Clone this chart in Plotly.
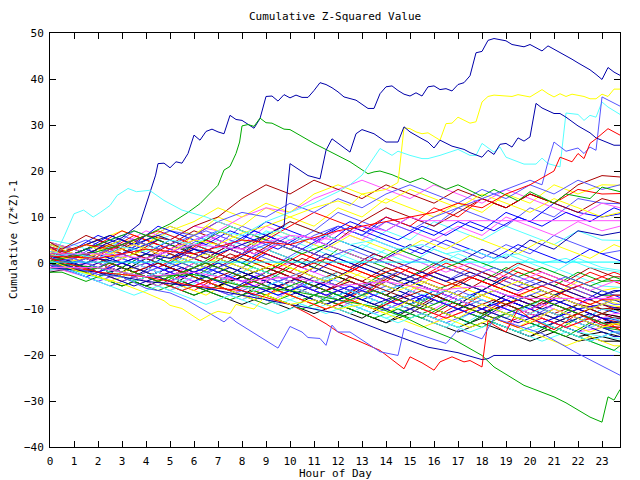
import plotly.graph_objects as go

# ---------------- data (read/estimated from the reference) ----------------
band_hours = list(range(24)) + [23.75]
band2_hours = [0] + [h + 0.5 for h in range(24)] + [23.75]

b01 = [1,-1,1,-1,-3,-1,-3,-5,-2,-4,-6,-3,-5,-7,-4,-6,-8,-10,-7,-9,-11,-8,-10,-12,-13]
b02 = [3,2,0,-2,1,-1,-3,0,-2,-4,-1,-3,-5,-7,-3,-5,-7,-9,-6,-8,-10,-12,-9,-11,-12.5]
b03 = [2,3,1,4,2,0,3,1,-1,2,0,-2,1,-1,-3,-5,-2,-4,-6,-3,-5,-7,-9,-6,-7.5]
b04 = [-1,-2,-4,-2,-4,-6,-3,-5,-7,-9,-6,-8,-10,-7,-9,-11,-13,-10,-12,-14,-11,-13,-15,-14,-15.3]
b05 = [4,3,5,3,6,4,2,5,3,7,5,3,1,4,2,0,3,1,-1,2,0,-2,1,-1,-1.6]
b06 = [0.5,1,-1,-3,-1,-3,0,-2,-4,-6,-4,-1,-3,-5,-7,-4,-6,-8,-10,-8,-10,-7,-9,-11,-11.7]
b07 = [2.5,0,2,4,2,0,-2,1,-1,3,1,-1,-3,0,-2,-4,-2,-4,-6,-3,-5,-7,-4,-6,-5.3]
b08 = [-1.5,-1,-3,-1,-3,-5,-7,-5,-7,-4,-6,-8,-10,-12,-9,-11,-8,-10,-12,-14,-16,-13,-15,-17,-17]
b09 = [3.5,2,4,6,4,2,5,7,5,3,6,4,8,6,4,2,5,3,1,4,2,6,4,2,2.7]
b10 = [0,-1,1,-1,2,0,-2,-4,-1,-3,-5,-7,-5,-7,-9,-6,-8,-10,-12,-9,-11,-13,-15,-12,-13.5]
b11 = [2,0,-2,1,-1,-3,-5,-3,-5,-7,-4,-6,-8,-5,-7,-9,-7,-9,-11,-8,-10,-12,-10,-12,-14.6]
b12 = [4.5,3,1,-1,2,0,4,2,0,-2,1,-1,3,1,-1,-3,0,-2,-4,-1,-3,-5,-2,-4,-3.8]
b13 = [1.5,1,3,1,-1,2,0,-2,-4,-2,-4,-6,-3,-5,-7,-9,-6,-8,-10,-7,-9,-11,-13,-10,-11]
b14 = [-0.5,-2,0,-2,-4,-2,-4,-6,-8,-5,-7,-9,-6,-8,-10,-8,-10,-7,-9,-11,-13,-10,-12,-14,-14]
b15 = [5,4,2,5,3,7,5,3,6,4,9,7,5,3,7,5,9,7,5,8,6,4,7,5,4.9]
b16 = [1,0,-2,0,-2,-4,-1,-3,-5,-2,-4,-6,-8,-5,-7,-9,-11,-8,-10,-12,-9,-11,-9,-10,-9.6]
b17 = [3,2,0,3,1,-1,2,0,-2,1,-1,-3,-5,-2,-4,-6,-3,-5,-7,-9,-6,-8,-10,-8,-9]
b18 = [-2,-1,-3,-5,-3,-5,-2,-4,-6,-8,-10,-7,-9,-11,-13,-10,-12,-14,-12,-14,-16,-14,-16,-15,-16]
b19 = [2,1,4,2,5,8,6,4,8,6,4,7,11,9,7,10,8,12,10,8,12,10,14,13,12.9]
b20 = [0,-1,-3,-1,-3,-1,-3,-5,-3,-5,-7,-5,-3,-5,-7,-9,-7,-9,-6,-8,-10,-8,-10,-12,-12]
b21 = [3.5,2,4,2,0,3,1,4,2,0,-2,2,0,-2,-4,-1,-3,-5,-2,-4,-6,-4,-6,-8,-8]
b22 = [-1,-2,-1,-3,-5,-3,-1,-3,-5,-2,-4,-6,-8,-6,-8,-10,-7,-9,-11,-9,-11,-13,-11,-13,-13]
b23 = [4,3,6,4,2,5,3,7,5,9,7,5,8,6,10,8,6,9,7,11,9,13,11,10,10.7]
b24 = [1,1,-1,1,-1,-3,0,-2,-4,-2,0,-2,-4,-6,-3,-5,-2,-4,-6,-8,-5,-7,-9,-7,-8]
b25 = [-1.5,-1,-3,-2,-4,-6,-4,-6,-8,-6,-8,-10,-8,-10,-12,-10,-12,-14,-11,-13,-15,-13,-15,-16,-16.5]
b26 = [2.5,2,0,-2,0,3,1,-1,2,0,-2,-4,-2,-4,-1,-3,-5,-7,-4,-6,-8,-6,-8,-10,-10]
b27 = [4,3,5,7,5,8,6,10,8,12,10,8,12,10,14,12,10,13,11,15,13,17,15,17,16.9]
b28 = [0.5,-1,1,-1,-3,-1,-3,-5,-3,-1,-3,-5,-7,-5,-7,-4,-6,-8,-10,-7,-9,-11,-13,-11,-11.7]
b29 = [1,0,-2,0,-2,0,-2,-4,-2,-4,-6,-3,-5,-7,-5,-7,-9,-6,-8,-10,-12,-10,-12,-14,-14]
b30 = [3,2,4,2,5,3,1,4,2,6,4,2,5,3,1,4,2,0,3,1,5,3,7,6,6.7]
b31 = [-0.5,-1,-2,-4,-2,-4,-6,-3,-5,-7,-5,-7,-9,-6,-8,-10,-12,-9,-11,-13,-11,-13,-11,-13,-13.5]
b32 = [2,1,3,1,3,1,-1,2,0,-2,1,-1,-3,-5,-2,-4,-6,-4,-6,-3,-5,-7,-5,-7,-7]
b33 = [1.5,2,1,-1,-3,-1,1,-1,-3,-5,-3,-5,-7,-5,-7,-9,-6,-8,-10,-8,-10,-12,-10,-12,-12.5]
b34 = [4.5,3,1,4,7,5,3,6,4,8,6,4,7,5,9,7,5,8,6,10,8,6,9,7,8]
b35 = [0,-1,1,3,1,-1,-3,-1,-3,-5,-3,-5,-2,-4,-6,-8,-6,-8,-10,-12,-9,-11,-13,-10,-10.5]
b36 = [1,3,5,3,1,4,7,5,3,6,9,7,5,9,12,10,8,11,14,12,15,13,17,19,18.7]
b37 = [2.5,2,0,2,4,2,0,-2,1,-1,-3,-1,-3,-5,-3,-5,-7,-5,-7,-9,-7,-9,-11,-9,-9.5]
b38 = [-1,1,-1,-3,-5,-3,-5,-7,-9,-7,-9,-11,-9,-11,-13,-11,-13,-15,-13,-15,-17,-15,-17,-16,-17]
b39 = [-0.5,-2,-4,-2,0,-2,-4,-1,-3,-5,-3,-6,-8,-6,-4,-6,-8,-10,-8,-10,-12,-9,-11,-13,-13]
b40 = [1.5,1,3,5,3,1,4,2,0,3,1,-1,-3,0,-2,-4,-2,-4,-6,-3,-5,-7,-5,-7,-6]
b41 = [3,2,4,7,5,3,6,9,7,5,8,11,9,7,10,8,12,10,14,12,15,13,16,15,15.1]
b42 = [-1,-1,-3,-5,-3,-5,-7,-5,-7,-9,-7,-9,-6,-8,-10,-12,-10,-12,-14,-11,-13,-15,-12,-14,-14.6]
b43 = [0.5,0,2,0,-2,-4,-2,0,-2,-4,-6,-4,-6,-8,-6,-4,-6,-8,-6,-8,-10,-8,-10,-9,-10]
b44 = [2.5,2,1,4,6,5,8,7,10,12,11,14,16,18,16,14,17,15,13,16,14,12,10,13,12]
b45 = [3,2,4,2,4,6,4,2,5,3,1,4,2,0,3,1,-1,2,0,-2,1,-1,-3,-5,-5.3]
b46 = [2,2,4,3,6,5,8,10,14,17,15,18,16,14,17,15,13,16,14,12,15,13,11,14,13]
b47 = [1,1,3,5,4,7,9,12,10,13,11,15,17,15,13,16,14,12,15,13,11,14,12,10,11]
b48 = [2,2,0,-2,1,-1,-3,-5,-3,-1,-3,-5,-3,-5,-7,-9,-7,-9,-11,-9,-7,-9,-11,-13,-12.8]
b49 = [1.5,1,3,2,5,7,6,9,11,10,13,11,14,12,15,17,15,13,16,14,17,15,18,16,17]

c01 = [1.5,1.5,-0.5,2,0,-2,1,-1,-3,-5,-2,-4,-6,-4,-6,-8,-5,-7,-9,-11,-8,-10,-12,-14,-12,-12.5]
c02 = [-1,-1,-2.5,-4,-2,-4,-6,-3,-5,-7,-9,-7,-9,-11,-8,-10,-12,-14,-11,-13,-15,-17,-15,-17,-19,-19.5]
c03 = [3,2.5,4,2,5,3,1,-1,2,0,-2,1,-1,-3,-5,-2,-4,-6,-3,-5,-7,-9,-6,-8,-10,-10.5]
c04 = [0.5,0.5,-1,-3,-1,-3,-5,-7,-4,-6,-8,-5,-7,-9,-6,-8,-10,-12,-10,-12,-14,-11,-13,-15,-13,-13.5]
c05 = [4,3,5,3,7,5,3,6,4,2,0,3,1,-1,2,0,-2,-4,-1,-3,-5,-3,-5,-7,-9,-9]
c06 = [-0.5,-0.5,1,-1,-3,0,-2,-4,-6,-3,-5,-7,-9,-7,-9,-11,-9,-11,-13,-10,-12,-14,-12,-14,-16,-16]
c07 = [2.5,2,0,3,6,4,2,5,3,1,4,2,0,-2,1,-1,-3,0,-2,-4,-1,-3,-5,-2,-4,-4.5]
c08 = [0,-1,1,-1,-3,-5,-2,-4,-6,-4,-6,-8,-6,-8,-10,-7,-9,-11,-13,-10,-12,-14,-16,-13,-15,-15.5]
c09 = [2,1,3,6,4,8,6,4,7,5,3,6,4,8,6,4,2,5,3,1,4,2,0,3,1,0.5]
c10 = [-1.5,-1.5,-3,-1,-3,-5,-3,-5,-7,-4,-6,-8,-10,-8,-6,-8,-10,-12,-10,-12,-10,-12,-14,-12,-14,-14]
c11 = [3.5,2,4,2,0,-2,1,-1,-3,-1,-3,-5,-3,-5,-7,-5,-7,-9,-7,-9,-11,-8,-10,-12,-10,-10]
c12 = [1,0,2,4,2,0,-2,0,-2,-4,-2,-4,-6,-3,-5,-7,-9,-6,-8,-10,-8,-10,-12,-10,-12,-12]
c13 = [4,3,1,4,2,6,4,8,6,4,7,5,3,6,4,2,5,3,6,4,2,5,3,1,4,3.5]
c14 = [-0.5,-1,-3,-5,-3,-1,-3,-5,-7,-5,-7,-5,-7,-9,-11,-9,-11,-13,-11,-13,-15,-13,-15,-17,-15,-15.5]
c15 = [1.5,1,-1,1,-1,-3,-1,-3,-1,-3,-5,-3,-5,-7,-4,-6,-8,-6,-8,-6,-8,-10,-8,-10,-8,-8.5]
c16 = [3,2,1,3,1,-1,2,0,3,1,-1,2,0,-2,1,-1,-3,-1,-3,-5,-2,-4,-6,-4,-2,-2.5]
c17 = [-2,-2,-4,-2,-4,-6,-4,-6,-8,-6,-8,-10,-8,-10,-12,-10,-12,-9,-11,-13,-15,-13,-15,-17,-19,-18]
c18 = [2,1,3,1,3,5,3,1,4,7,5,3,6,9,7,5,8,6,9,7,10,8,11,9,12,11.5]
c19 = [0.5,-1,1,-1,1,-1,-3,-5,-3,-5,-3,-5,-7,-5,-7,-9,-7,-9,-11,-9,-11,-9,-11,-13,-11,-11]
c20 = [2.5,2,0,-2,-4,-2,-4,-2,-4,-6,-4,-6,-8,-6,-8,-10,-8,-6,-8,-10,-12,-10,-12,-14,-12,-12.5]
c21 = [4.5,3,6,4,2,5,3,1,4,2,5,3,1,-1,2,0,-2,1,-1,-3,0,-2,-4,-1,-3,-3]
c22 = [-1,-1,-2,-4,-2,-4,-2,-4,-6,-8,-6,-8,-10,-8,-10,-12,-14,-12,-14,-12,-14,-16,-18,-16,-18,-18]
c23 = [1,1,0,2,0,2,0,-2,0,-2,-4,-2,-4,-6,-4,-2,-4,-6,-8,-6,-8,-6,-8,-10,-8,-7.5]
c24 = [3.5,2,4,6,4,6,4,2,0,3,1,-1,2,0,-2,-4,-2,-4,-2,-4,-6,-4,-6,-8,-6,-6]
c25 = [-0.5,-0.5,-2,0,-2,-4,-6,-4,-6,-4,-6,-8,-10,-8,-10,-8,-10,-12,-10,-12,-14,-12,-14,-12,-14,-14.5]
c26 = [2,1,3,5,7,5,3,5,8,6,4,2,4,2,0,3,1,-1,1,-1,-3,-1,-3,-5,-3,-3.5]
c27 = [0,-1,-3,-1,1,-1,-3,-1,-3,-5,-7,-5,-7,-5,-7,-9,-7,-9,-11,-9,-11,-13,-11,-13,-15,-15]
c28 = [3,2,0,2,4,2,4,6,4,2,4,6,4,2,0,2,0,-2,0,-2,-4,-2,-4,-6,-4,-4]
c29 = [-1.5,-1,-3,-5,-7,-5,-7,-9,-7,-9,-11,-9,-11,-9,-11,-13,-11,-13,-15,-13,-15,-13,-15,-17,-15,-15]
c30 = [1.5,1,2,0,-2,0,-2,-4,-2,-4,-2,-4,-6,-4,-6,-8,-6,-8,-10,-8,-10,-8,-10,-12,-10,-10]
c31 = [3,2,4,2,4,2,0,2,0,-2,0,-2,-4,-2,-4,-6,-4,-6,-8,-6,-4,-6,-8,-10,-8,-8]
c32 = [0.5,-1,1,3,5,3,5,7,5,3,5,3,1,3,1,-1,1,-1,-3,-1,-3,-5,-3,-5,-7,-7]
c33 = [1,0.5,-1,-3,-5,-3,-5,-3,-5,-7,-5,-7,-9,-7,-9,-7,-9,-11,-9,-11,-13,-11,-13,-11,-13,-13]
c34 = [3.5,2,4,3,5,7,5,3,1,3,1,-1,1,-1,-3,-1,-3,-5,-3,-5,-7,-5,-7,-9,-7,-7]
c35 = [0,-1,-2,0,-2,-4,-2,0,-2,-4,-6,-4,-6,-8,-6,-8,-10,-8,-10,-12,-10,-8,-10,-12,-14,-14]

band_series = [b01,b02,b03,b04,b05,b06,b07,b08,b09,b10,b11,b12,b13,b14,b15,
               b16,b17,b18,b19,b20,b21,b22,b23,b24,b25,b26,b27,b28,b29,b30,
               b31,b32,b33,b34,b35,b36,b37,b38,b39,b40,b41,b42,b43,b44,b45,
               b46,b47,b48,b49]
band2_series = [c01,c02,c03,c04,c05,c06,c07,c08,c09,c10,c11,c12,c13,c14,c15,c16,c17,c18,
                c19,c20,c21,c22,c23,c24,c25,c26,c27,c28,c29,c30,c31,c32,c33,c34,c35]

palette = ["#ff0000", "#00aa00", "#0000ff", "#ff55ff", "#55ffff",
           "#aa0000", "#ffff00", "#000000", "#5555ff", "#0000aa"]
palette2 = ["#ff0000", "#00aa00", "#0000ff", "#ff55ff", "#55ffff",
            "#aa0000", "#ffff00", "#5555ff", "#0000aa"]

# outlying walks
A_x = [0,0.75,1.5,2.25,3,3.5,3.75,4.4,4.5,4.75,5,5.25,5.5,5.75,6,6.25,6.5,6.75,7,7.25,7.5,7.75,8,
       8.5,8.75,9,9.25,9.5,9.75,10,10.25,10.5,10.75,11,11.25,11.5,11.75,12,12.25,12.75,13,13.25,13.5,13.75,
       14,14.25,14.5,14.75,15,15.25,15.5,15.75,16,16.25,16.5,16.75,17,17.25,17.5,17.75,
       18,18.25,18.5,18.75,19,19.25,19.5,19.75,20,20.25,20.5,20.75,21,21.25,21.5,21.75,
       22,22.25,22.5,22.75,23,23.25,23.5,23.75]
A_y = [1,2.0,1.5,4.0,5.5,7.5,8.6,19.1,21.6,21.7,20.7,22.0,21.7,23.8,27.8,26.7,28.6,29.1,28.5,28.1,32.1,31.2,31.0,
       29.3,31.4,36.2,36.3,35.2,36.6,35.9,36.5,36.0,36.0,37.5,39.2,38.8,38.1,37.2,36.1,35.4,34.5,33.6,33.6,36.8,
       38.3,38.5,37.5,36.7,36.3,37.0,36.3,38.3,38.5,37.7,37.9,37.4,38.8,39.2,40.7,45.7,
       46.0,48.4,48.8,48.6,48.3,47.5,47.3,47.0,47.5,46.8,46.1,47.2,46.5,45.8,45.0,44.3,
       43.5,42.8,42.0,41.0,39.9,42.5,41.5,40.8]

B_x = [0,1,2,3,4,5,5.75,6.25,6.5,7,7.25,7.5,7.75,7.9,8,8.25,8.5,8.75,9,9.25,9.75,10,
       11,12.5,13.25,13.5,13.75,14.25,15,15.5,16.5,17,18,18.5,19.5,20,21,21.5,22.5,23,23.75]
B_y = [0.5,1.5,2.5,4,6,8.5,11,12.9,14.3,16.9,20.2,21.0,23.8,26.3,29.8,30.1,29.7,31.5,30.5,30.4,29.1,29.0,
       26.0,22.0,19.4,19.8,20.0,19.2,17.5,18.5,16,17,14.5,16,13.5,15.5,13,15,14,16.5,15.5]

C_x = [0,1,2,3,4,5,6,7,8,9,10,11,12,12.5,13,14,14.5,14.75,15,15.25,15.5,15.75,16.25,
       16.5,16.75,17,17.5,17.75,18,18.25,18.5,19.25,19.5,20,20.5,20.75,21,21.25,21.5,21.75,
       22.25,22.5,22.75,23,23.25,23.5,23.75]
C_y = [2,0.5,2,1,3,2.5,5,4,6.5,8,10,12,13.5,12.5,15,16,17.5,29.4,29.2,28.5,28.1,28.3,26.7,
       30.3,30.4,31.7,30.4,30.7,35.0,36.2,36.5,36.2,36.6,36.1,37.7,36.8,36.1,36.8,36.2,36.7,
       36.2,35.7,35.7,36.7,36.2,37.8,37.8]

D_x = [0,1,2,3,4,5,6,7,8,9,10,11,12,12.5,13,13.75,14.25,14.5,15,15.5,15.75,16.25,17,17.5,17.75,
       18,18.5,18.75,19,19.75,20.25,20.5,20.75,21.25,21.5,22,22.25,22.5,22.75,23,23.25,23.75]
D_y = [1.5,2,1,3.5,2.5,5,4,7,6,9,11,13,15.5,17,19.1,24.9,23.4,24.3,23.4,22.7,22.7,23.4,24.7,23.4,23.4,
       26.0,24.1,25.2,23.0,21.5,21.5,22.8,21.6,20.9,32.6,32.3,31.0,32.1,31.7,35.0,33.9,32.3]

E_x = [0,1,2,3,4,5,6,7,8,9,10,11,12,13,14,15,16,17,18,19,20,20.5,20.75,21,21.5,22,22.25,22.5,22.75,23,23.25,23.75]
E_y = [0,1,-1,2,0,3,1,4,2,5,3,6,8,6,9,7,10,12,14,16,18,17,22.0,26.3,24.3,25.0,23.8,25.2,24.5,36.1,35.4,34.1]

F_x = [0,1,2,3,4,5,6,7,8,9,9.75,10,10.75,11.25,11.5,11.75,12.5,12.75,13,13.5,14,14.5,14.75,
       15,15.5,15.75,16,16.25,16.75,17.25,17.5,18,18.25,18.5,18.75,19,19.25,19.5,19.75,20,20.25,
       20.5,21,21.25,21.5,22,22.5,22.75,23.5,23.75]
F_y = [0.5,-1,1,0,2,1,3,2,4,6,8,21.6,19.0,18.3,24.5,27.0,24.1,28.1,29.0,28.1,26.3,26.3,29.6,
       28.5,27.0,26.3,25.0,26.7,25.4,24.7,24.0,23.0,24.5,23.6,25.8,26.0,25.2,27.2,26.5,27.4,34.7,
       33.7,32.5,32.5,31.7,29.8,28.3,27.2,25.6,25.6]

G_x = [0,0.25,0.6,1,1.4,1.8,2.1,2.5,2.8,3.25,3.6,4.15,4.75,5.5,6.5,7.5,8.5,9.5,10.5,11.5,
       12.5,13.5,14.5,15.5,16.5,17.5,18.5,19.5,20.5,21.5,22.5,23.75]
G_y = [0.5,2,5.9,10.7,11.5,10.0,11.0,12.5,14.7,16.2,15.5,15.8,13.6,11.5,10,8,6,7,5,6,
       4,5,3,4,2,3,1,2,0,1,-1,-2]

H_x = [0,2,4,6,8,10,12,14,15.75,17,18,18.25,18.5,23.75]
H_y = [-1,-2,-4,-5,-7,-9,-11,-15,-18.3,-19.5,-21,-20.8,-20.1,-20.1]

I_x = [0,2,4,6,8,10,12,13.5,14.75,15.75,16.75,18,18.5,19.75,21,21.5,22.5,23,23.25,23.5,23.75]
I_y = [0,-1,-3,-2.5,-5,-6,-8,-9.5,-11.7,-14.3,-16.4,-20.1,-22.6,-26.6,-29.1,-30.4,-33.5,-34.6,-29.1,-29.8,-27.5]

J_x = [0,2,4,6,8,10,10.75,11.5,12,13.75,14.75,15,15.5,16,16.25,16.75,17.25,17.5,
       18,18.25,18.5,19,19.5,20,21,22,23,23.75]
J_y = [1,-2,-3,-5,-6,-9,-11,-13.2,-15.0,-19.0,-23.0,-20.4,-21.7,-23.3,-21.5,-20.4,-21.5,-21.2,
       -22.6,-12.5,-13.5,-15,-10,-12,-14.5,-11,-13.5,-14]

K_x = [0,1,2,3,4,5,5.75,7.25,7.5,7.75,9.5,10,10.5,10.75,11.25,11.5,11.75,12,12.5,13.75,14.5,
       14.75,15.25,16.5,17,18,18.5,19.25,20.5,22,23.75]
K_y = [-0.5,-1,-2.5,-3,-5.5,-6.5,-8.2,-12.8,-11.7,-12.8,-18.5,-13.8,-15.0,-16.2,-16.4,-17.9,-13.5,-15.0,-15.0,-19.3,-20.1,
       -14.3,-15.3,-17.5,-14.5,-16.5,-12,-13.2,-15.3,-19.7,-24.4]

L_x = [0,1,2,3,4,4.75,5,5.5,6.25,6.75,7,7.5,7.75,8.5,9,10,11,12,13,14,15,16,17,18,19,20,21,22,23,23.75]
L_y = [0.5,-1.5,-3,-4.5,-6.5,-8.2,-9.2,-9.9,-12.5,-11.0,-10.5,-11,-9,-10,-7,-9,-8,-10,-9,-11,-8,-10,-12,-9,-11,-13,-10,-12,-14,-13]

M_x = [0,2,4,6,8,10,12,13,14,15,15.5,23.75]
M_y = [2,2,1,4,3,6,5,8,7,10,9.2,9.2]

N_x = [0,2,4,6,8,10,12,14,16,18,19,20,23.75]
N_y = [-1,-1,-3,-2,-4,-3,-5,-4,-6,-5,-7,-7.7,-7.7]

R_x = [0,2,4,6,8,10,12,14,16,17,18,19,20,21,21.25,21.75,22,22.25,22.5,22.75,23.25,23.5,23.75]
R_y = [1.5,1,3,2,5,4,7,9,11,13,12,15,17,20,23.0,22.0,23.8,22.7,26.0,27.0,29.2,28.5,27.8]

O_x = [0, 23.75]
O_y = [0.2, 0.2]

outliers = [
    (A_x, A_y, "#0000aa"), (B_x, B_y, "#00aa00"), (C_x, C_y, "#ffff00"),
    (D_x, D_y, "#55ffff"), (E_x, E_y, "#5555ff"), (F_x, F_y, "#0000aa"),
    (G_x, G_y, "#55ffff"), (H_x, H_y, "#0000aa"), (I_x, I_y, "#00aa00"),
    (J_x, J_y, "#ff0000"), (K_x, K_y, "#5555ff"), (L_x, L_y, "#ffff00"),
    (M_x, M_y, "#ff55ff"), (N_x, N_y, "#ff55ff"), (R_x, R_y, "#ff0000"),
    (O_x, O_y, "#00ffff"),
]

hour_ticks = list(range(24))
value_ticks = list(range(-40, 51, 10))

# ---------------- figure ----------------
FONT = "DejaVu Sans Mono"
fig = go.Figure()

for i, ys in enumerate(band_series):
    fig.add_trace(go.Scatter(x=band_hours, y=ys, mode="lines",
                             line=dict(color=palette[i % len(palette)], width=1),
                             hoverinfo="skip", showlegend=False))

for i, ys in enumerate(band2_series):
    fig.add_trace(go.Scatter(x=band2_hours, y=ys, mode="lines",
                             line=dict(color=palette2[(i + 3) % len(palette2)], width=1),
                             hoverinfo="skip", showlegend=False))

for xs, ys, col in outliers:
    fig.add_trace(go.Scatter(x=xs, y=ys, mode="lines",
                             line=dict(color=col, width=1),
                             hoverinfo="skip", showlegend=False))

axis_common = dict(showline=True, linecolor="black", linewidth=1, mirror="ticks",
                   ticks="inside", ticklen=6, tickcolor="black", tickwidth=1,
                   showgrid=False, zeroline=False, automargin=False,
                   tickfont=dict(family=FONT, size=11, color="black"))

# the page body adds an 8px offset, so the figure is sized 632x472
fig.update_layout(
    width=632, height=472,
    margin=dict(l=42, r=20, t=25, b=33),
    paper_bgcolor="white", plot_bgcolor="white",
    font=dict(family=FONT, size=11, color="black"),
    xaxis=dict(range=[0, 23.75], tickvals=hour_ticks, ticklabelstandoff=4, **axis_common),
    yaxis=dict(range=[-40, 50], tickvals=value_ticks, ticklabelstandoff=3, **axis_common),
    showlegend=False,
    annotations=[
        dict(text="Cumulative Z-Squared Value", xref="paper", yref="paper",
             x=0.5, y=1, yshift=17, showarrow=False, yanchor="middle",
             font=dict(family=FONT, size=11, color="black")),
        dict(text="Hour of Day", xref="paper", yref="paper",
             x=0.5, y=0, yshift=-26, showarrow=False, yanchor="middle",
             font=dict(family=FONT, size=11, color="black")),
        dict(text="Cumulative (Z*Z)-1", xref="paper", yref="paper",
             x=0, xshift=-37, y=0.5, showarrow=False, textangle=-90,
             xanchor="center", yanchor="middle",
             font=dict(family=FONT, size=11, color="black")),
    ],
)

fig.write_html("out.html")
